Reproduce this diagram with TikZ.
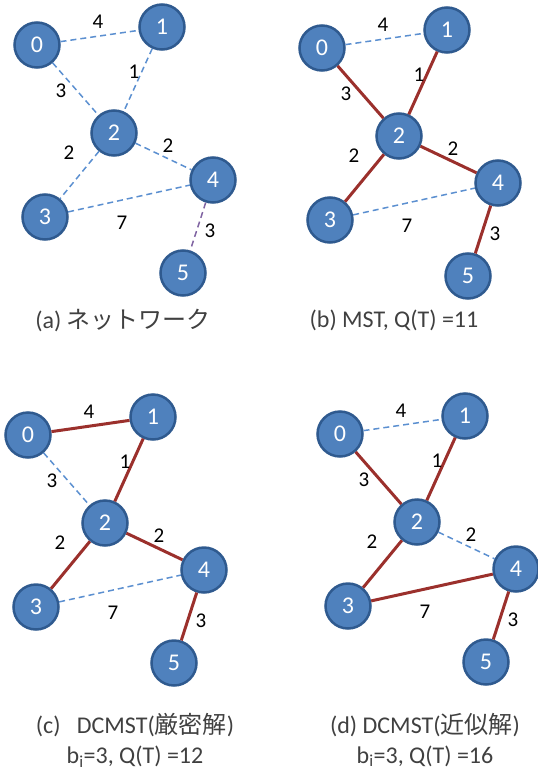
\documentclass[tikz,border=0pt]{standalone}
\usepackage{fontspec}
\setmainfont{Carlito}
\newfontfamily\jpfont{Noto Sans CJK JP}
\usepackage{xcolor}
\usepackage{tikz}
\usetikzlibrary{calc}
\definecolor{NodeBlue}{HTML}{4F81BD}
\definecolor{NodeRim}{HTML}{2F5A8F}
\definecolor{EdgeBlue}{HTML}{5B8FD0}
\definecolor{EdgePurple}{HTML}{8064A2}
\definecolor{TreeRed}{HTML}{9B302C}
\definecolor{CapGray}{HTML}{404040}

\tikzset{
  vtx/.style={circle, draw=NodeRim, fill=NodeBlue, line width=2.5pt,
    minimum size=45pt, inner sep=0pt, text=white,
    font=\fontsize{24}{24}\selectfont},
  cand/.style={draw=EdgeBlue, line width=1.5pt, dash pattern=on 6pt off 4pt},
  tree/.style={draw=TreeRed, line width=3pt},
  wlab/.style={font=\fontsize{21}{21}\selectfont, inner sep=1pt},
  capt/.style={font=\fontsize{24}{30}\selectfont, text=CapGray, align=center}
}

% the six vertices and the seven edge weights, same layout in every panel
\newcommand{\netnodes}{%
  \foreach \v/\px/\py in {0/37/45, 1/162/27, 2/114/133, 3/45/217, 4/213/180, 5/183/273}
    \node[vtx] (\v) at (\px,\py) {\v};}
\newcommand{\netweights}{%
  \node[wlab] (w01) at (98,22) {4};
  \node[wlab] (w12) at (134,72) {1};
  \node[wlab] (w02) at (61,91) {3};
  \node[wlab] (w23) at (69,153) {2};
  \node[wlab] (w24) at (168,146) {2};
  \node[wlab] (w34) at (122,223) {7};
  \node[wlab] (w45) at (210,231) {3};}

\begin{document}
\begin{tikzpicture}[x=1pt, y=-1pt]
  \useasboundingbox (0,0) rectangle (538,771);

  % (a) network
  \begin{scope}[name prefix=a-]
    \netnodes
    \draw[cand] (0) -- (1);
    \draw[cand] (0) -- (2);
    \draw[cand] (1) -- (2);
    \draw[cand] (2) -- (3);
    \draw[cand] (2) -- (4);
    \draw[cand] (3) -- (4);
    \draw[cand, draw=EdgePurple] (4) -- (5);
    \netweights
  \end{scope}

  % (b) MST
  \begin{scope}[shift={(285,3)}, name prefix=b-]
    \netnodes
    \draw[cand] (0) -- (1);
    \draw[tree] (0) -- (2);
    \draw[tree] (1) -- (2);
    \draw[tree] (2) -- (3);
    \draw[tree] (2) -- (4);
    \draw[cand] (3) -- (4);
    \draw[tree] (4) -- (5);
    \netweights
  \end{scope}

  % (c) DCMST, exact
  \begin{scope}[shift={(-9,390)}, name prefix=c-]
    \netnodes
    \draw[tree] (0) -- (1);
    \draw[cand] (0) -- (2);
    \draw[tree] (1) -- (2);
    \draw[tree] (2) -- (3);
    \draw[tree] (2) -- (4);
    \draw[cand] (3) -- (4);
    \draw[tree] (4) -- (5);
    \netweights
  \end{scope}

  % (d) DCMST, approximate
  \begin{scope}[shift={(303,389)}, name prefix=d-]
    \netnodes
    \draw[cand] (0) -- (1);
    \draw[tree] (0) -- (2);
    \draw[tree] (1) -- (2);
    \draw[tree] (2) -- (3);
    \draw[cand] (2) -- (4);
    \draw[tree] (3) -- (4);
    \draw[tree] (4) -- (5);
    \netweights
  \end{scope}

  % captions
  \node[capt] (capA) at (123,320) {(a) {\jpfont ネットワーク}};
  \node[capt] (capB) at (394,320) {(b) MST, Q(T) =11};
  \node[capt] (capC) at (135,740) {(c)\ \ \ DCMST({\jpfont 厳密解})\\b\textsubscript{i}=3, Q(T) =12};
  \node[capt] (capD) at (425,740) {(d) DCMST({\jpfont 近似解})\\b\textsubscript{i}=3, Q(T) =16};
\end{tikzpicture}
\end{document}
